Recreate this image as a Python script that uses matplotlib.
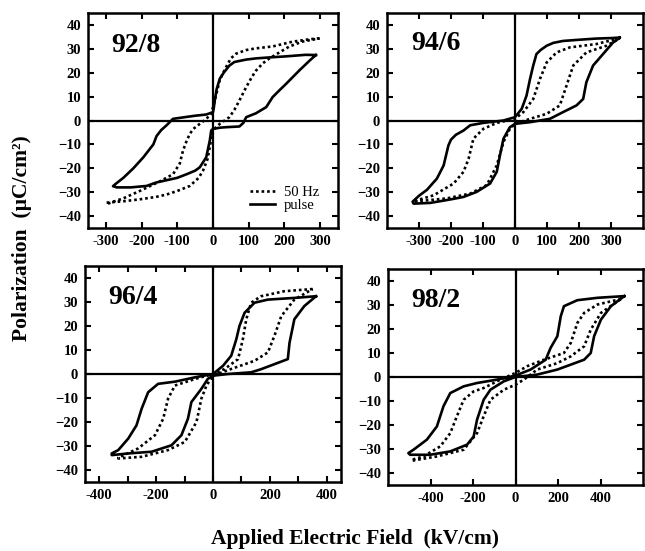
import matplotlib
matplotlib.use("Agg")
import matplotlib.pyplot as plt

plt.rcParams['font.family'] = ['Liberation Serif', 'DejaVu Serif']
plt.rcParams['font.weight'] = 'bold'

# ---- hysteresis loops: field (kV/cm) and polarization (uC/cm^2) ----
# each loop: descending branch followed by ascending branch

# 92/8
e_928_pulse = [288, 260, 200, 167, 120, 93, 60, 46, 30, 19, 10, 5, 2, 0, -19, -50, -93, -112,
               -130, -145, -158, -167, -180, -195, -223, -251, -274, -280,
               -270, -230, -186, -160, -130, -100, -74, -50, -37, -19, -9, -5, 0, 20, 37, 74,
               85, 93, 120, 149, 167, 185, 205, 242, 270, 288]
p_928_pulse = [27.4, 27.5, 26.8, 26.5, 26.0, 25.5, 24.5, 23.0, 20.0, 17.5, 13.0, 8.4, 5.0, 3.5,
               2.5, 2.0, 1.1, 0.7, -2.0, -4.0, -6.5, -10.0, -12.5, -15.4, -20.0, -24.0, -26.7, -27.5,
               -28.0, -28.0, -27.4, -26.0, -25.0, -24.0, -22.5, -21.0, -19.6, -15.4, -8.4, -4.2,
               -3.5, -3.0, -2.8, -2.5, -1.0, 1.4, 3.0, 5.6, 9.8, 12.5, 15.4, 21.0, 25.0, 27.4]
e_928_50hz = [298, 270, 223, 167, 120, 93, 65, 50, 37, 19, 5, -5, -20, -37, -55, -65, -75, -84,
              -93, -112, -149, -205, -250, -298,
              -298, -250, -205, -160, -130, -100, -65, -40, -28, -15, -9, 0, 19, 46, 60, 74, 93,
              110, 121, 140, 158, 214, 250, 298]
p_928_50hz = [34.4, 34.0, 33.0, 31.0, 30.2, 29.5, 28.0, 26.0, 22.5, 17.0, 8.4, 2.8, 0.5, -1.4,
              -3.5, -5.6, -9.0, -12.6, -18.0, -22.5, -25.5, -29.5, -32.5, -35.0,
              -34.4, -33.8, -33.0, -32.0, -31.0, -29.5, -27.4, -24.0, -21.0, -16.0, -11.0, -4.0,
              -1.4, 1.4, 4.5, 8.4, 14.0, 18.5, 21.0, 24.0, 26.0, 31.0, 33.0, 34.4]

# 94/6
e_946_pulse = [327, 300, 254, 200, 150, 120, 99, 80, 67, 57, 47, 36, 21, 0, -36, -99, -140, -161,
               -185, -200, -208, -223, -244, -275, -300, -320,
               -317, -265, -200, -161, -120, -78, -57, -47, -36, -16, 0, 47, 109, 150, 192, 213,
               223, 244, 275, 306, 327]
p_946_pulse = [34.7, 34.5, 34.3, 33.8, 33.3, 32.5, 31.3, 29.5, 27.8, 23.0, 17.4, 10.4, 4.9, 1.4,
               0.0, -1.0, -2.0, -4.2, -6.0, -8.0, -10.4, -18.8, -24.3, -29.0, -31.5, -34.0,
               -34.8, -34.5, -33.0, -32.0, -29.9, -26.4, -21.5, -14.6, -7.6, -2.8, -1.4, -0.7,
               0.7, 3.5, 6.3, 9.0, 16.0, 23.0, 27.8, 32.6, 34.7]
e_946_50hz = [327, 290, 254, 171, 130, 99, 78, 57, 26, 0, -57, -99, -130, -145, -161, -192, -254, -317,
              -317, -213, -140, -88, -57, -36, -16, 0, 47, 99, 140, 161, 182, 223, 286, 327]
p_946_50hz = [34.3, 33.2, 32.0, 30.6, 28.5, 24.3, 17.4, 9.0, 3.5, 0.7, -1.0, -3.5, -7.6, -16.0,
              -21.5, -26.4, -31.3, -33.8,
              -34.0, -32.6, -30.6, -27.0, -18.8, -9.0, -3.5, -1.4, 0.7, 2.8, 6.3, 14.6, 23.0,
              28.5, 31.3, 34.3]

# 96/4
e_964_pulse = [362, 286, 193, 146, 111, 93, 82, 64, 35, 0, -64, -134, -193, -228, -251, -269, -298,
               -333, -356,
               -356, -298, -216, -146, -111, -88, -76, -41, -18, 0, 53, 134, 169, 216, 263, 269,
               286, 321, 362]
p_964_pulse = [32.4, 31.7, 31.0, 29.7, 25.5, 20.0, 14.5, 7.6, 3.4, 0.0, -1.4, -3.2, -4.1, -7.6,
               -14.5, -21.4, -26.9, -31.7, -33.1,
               -33.8, -33.1, -32.4, -29.7, -25.5, -18.6, -11.7, -6.2, -2.0, -0.7, 0.0, 0.7, 2.0,
               4.1, 6.2, 13.0, 22.8, 28.3, 32.4]
e_964_50hz = [350, 251, 169, 134, 117, 105, 88, 41, 0, -64, -134, -158, -175, -204, -263, -333,
              -333, -251, -158, -99, -58, -41, -23, 0, 64, 146, 193, 216, 240, 286, 350]
p_964_50hz = [35.4, 34.5, 32.4, 29.7, 22.8, 14.5, 6.2, 2.1, 0.0, -2.1, -4.8, -10.3, -18.6, -25.5,
              -31.0, -34.9,
              -35.2, -34.5, -31.7, -28.3, -20.0, -10.3, -4.8, -0.7, 2.1, 5.5, 9.0, 15.9, 24.1,
              31.0, 35.4]

# 98/2
e_982_pulse = [512, 386, 291, 228, 213, 197, 165, 142, 71, 0, -87, -181, -244, -307, -339, -370,
               -417, -480, -504,
               -496, -402, -307, -228, -197, -181, -150, -118, -55, 0, 102, 197, 323, 354, 370,
               402, 449, 512]
p_982_pulse = [33.7, 33.0, 32.0, 29.5, 25.3, 17.0, 12.1, 7.2, 3.1, 0.6, -1.1, -2.5, -3.9, -6.7,
               -12.2, -20.6, -26.1, -30.3, -31.7,
               -32.4, -32.4, -31.0, -28.2, -24.8, -17.8, -9.5, -5.3, -1.8, 0.0, 1.0, 3.1, 7.2,
               10.0, 17.0, 23.9, 29.5, 33.7]
e_982_50hz = [496, 386, 323, 291, 260, 228, 134, 55, 0, -71, -150, -197, -244, -276, -307, -354,
              -433, -488,
              -488, -370, -244, -181, -150, -118, -55, 0, 39, 102, 197, 260, 323, 354, 402, 496]
p_982_50hz = [32.5, 30.2, 26.7, 22.5, 14.2, 10.0, 7.2, 4.5, 1.7, -1.1, -4.6, -6.0, -9.5, -16.4,
              -23.4, -28.9, -33.1, -34.5,
              -34.9, -33.1, -30.3, -23.4, -16.4, -9.5, -5.3, -3.2, -1.1, 3.1, 5.8, 8.6, 12.8,
              19.7, 26.7, 32.5]

compositions = ["92/8", "94/6", "96/4", "98/2"]
pulse_e = [e_928_pulse, e_946_pulse, e_964_pulse, e_982_pulse]
pulse_p = [p_928_pulse, p_946_pulse, p_964_pulse, p_982_pulse]
ac_e = [e_928_50hz, e_946_50hz, e_964_50hz, e_982_50hz]
ac_p = [p_928_50hz, p_946_50hz, p_964_50hz, p_982_50hz]

x_limits = [(-350, 350), (-400, 400), (-450, 450), (-600, 600)]
x_ticks = [list(range(-300, 301, 100)), list(range(-300, 301, 100)),
           list(range(-400, 401, 100)), list(range(-400, 401, 200))]
x_ticklabels = [[str(t) for t in x_ticks[0]], [str(t) for t in x_ticks[1]],
                [str(t) if t % 200 == 0 else "" for t in x_ticks[2]],
                [str(t) for t in x_ticks[3]]]
y_ticks = list(range(-40, 41, 10))

fig = plt.figure(figsize=(6.45, 5.51), dpi=100)
W, H = 645.0, 551.0
# panel boxes in pixels: left, top, right, bottom
boxes = [(88, 13, 338, 228), (387, 13, 643, 228), (85, 266, 341, 482), (388, 269, 643, 485)]
title_pos = [(0.095, 0.847), (0.096, 0.86), (0.09, 0.852), (0.093, 0.852)]

for i, (l, t, r, b) in enumerate(boxes):
    ax = fig.add_axes([l / W, 1 - b / H, (r - l) / W, (b - t) / H])
    ax.plot(ac_e[i], ac_p[i], color='black', lw=1.9, ls=(0, (1, 1.1)), label='50 Hz')
    ax.plot(pulse_e[i], pulse_p[i], color='black', lw=1.9, ls='-', label='pulse')
    ax.axhline(0, color='black', lw=1.6, zorder=1)
    ax.axvline(0, color='black', lw=1.6, zorder=1)
    ax.set_xlim(*x_limits[i])
    ax.set_ylim(-45, 45)
    ax.set_xticks(x_ticks[i])
    ax.set_xticklabels(x_ticklabels[i])
    ax.set_yticks(y_ticks)
    ax.tick_params(direction='in', length=4, width=1.5, top=True, right=True,
                   labelsize=10.5, pad=5)
    for lab in ax.get_xticklabels() + ax.get_yticklabels():
        lab.set_fontweight('bold')
    for sp in ax.spines.values():
        sp.set_linewidth(1.8)
    ax.text(title_pos[i][0], title_pos[i][1], compositions[i], transform=ax.transAxes,
            fontsize=20, fontweight='bold', ha='left', va='center')
    if i == 0:
        ax.legend(loc='lower right', frameon=False, handlelength=1.7, handletextpad=0.6,
                  labelspacing=0.0, borderaxespad=0.3,
                  prop={'family': 'Liberation Serif', 'weight': 'normal', 'size': 10.5},
                  bbox_to_anchor=(0.965, 0.025))

fig.text(355 / W, 1 - 539 / H, "Applied Electric Field  (kV/cm)", ha='center', va='center',
         fontsize=15.5, fontweight='bold')
fig.text(22 / W, 1 - 238 / H, "Polarization  (\u00b5C/cm\u00b2)", ha='center', va='center',
         rotation=90, fontsize=15.5, fontweight='bold')

fig.savefig("out.png", dpi=100)
